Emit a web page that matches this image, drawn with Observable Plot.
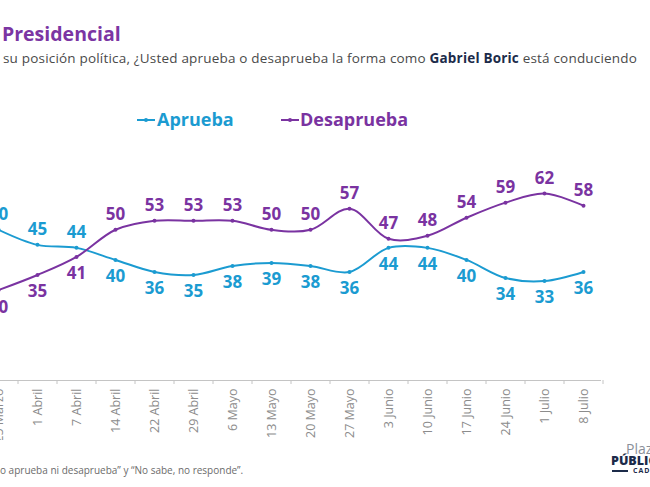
<!DOCTYPE html>
<html><head><meta charset="utf-8">
<script src="https://cdn.jsdelivr.net/npm/d3@7"></script>
<script src="https://cdn.jsdelivr.net/npm/@observablehq/plot@0.6"></script>
<style>
body{margin:0;background:#fff;font-family:"Open Sans",sans-serif;}
#page{position:relative;width:650px;height:487px;overflow:hidden;background:#fff;}
.abs{position:absolute;white-space:nowrap;line-height:1;}
.title{left:2px;top:24px;font-size:19.5px;font-weight:700;color:#7b35a3;}
.sub{left:3px;top:52px;font-size:13.5px;color:#4a4a4a;letter-spacing:0.19px;}
.sub b{color:#1c2b4a;}
.leg{top:110px;font-size:18px;font-weight:700;}
.sw{position:absolute;height:2px;width:18px;top:119px;}
.dotsw{position:absolute;width:4px;height:4px;border-radius:2px;top:118px;}
.foot{left:0px;top:465px;font-size:10px;color:#6b6b6b;}
#chart{position:absolute;left:0;top:150px;}
#logo{position:absolute;left:608px;top:440px;width:80px;height:40px;}
</style>
</head><body>
<div id="page">
  <div class="abs title">Presidencial</div>
  <div class="abs sub">su posición política, ¿Usted aprueba o desaprueba la forma como <b>Gabriel Boric</b> está conduciendo</div>
  <div class="sw" style="left:137px;background:#1b9bd1"></div>
  <div class="dotsw" style="left:144px;background:#1b9bd1"></div>
  <div class="abs leg" style="left:157px;color:#1b9bd1">Aprueba</div>
  <div class="sw" style="left:281px;background:#7a33a1"></div>
  <div class="dotsw" style="left:288px;background:#7a33a1"></div>
  <div class="abs leg" style="left:300px;color:#7a33a1">Desaprueba</div>
  <div id="chart"></div>
  <div class="abs foot">o aprueba ni desaprueba” y “No sabe, no responde”.</div>
  <div id="logo">
    <span class="abs" style="left:18px;top:2px;font-size:14px;color:#8a8f99;">Plaza</span>
    <span class="abs" style="left:3px;top:15px;font-size:12.5px;color:#1c2b4a;font-weight:800">PÚBLICA</span>
    <span style="position:absolute;left:4px;top:30px;width:16px;height:1.5px;background:#1c2b4a"></span>
    <span class="abs" style="left:25px;top:27px;font-size:7px;color:#1c2b4a;font-weight:700;letter-spacing:1px">CADEM</span>
  </div>
</div>
<script>
const fechas = ["25 Marzo","1 Abril","7 Abril","14 Abril","22 Abril","29 Abril","6 Mayo","13 Mayo","20 Mayo","27 Mayo","3 Junio","10 Junio","17 Junio","24 Junio","1 Julio","8 Julio"];
const aprueba = [50,45,44,40,36,35,38,39,38,36,44,44,40,34,33,36];
const desaprueba = [30,35,41,50,53,53,53,50,50,57,47,48,54,59,62,58];
const series = ["Aprueba","Desaprueba"];
const colores = ["#1b9bd1","#7a33a1"];

const rows = [];
fechas.forEach((f, i) => {
  rows.push({i, serie: "Aprueba", valor: aprueba[i], arriba: aprueba[i] > desaprueba[i]});
  rows.push({i, serie: "Desaprueba", valor: desaprueba[i], arriba: desaprueba[i] > aprueba[i]});
});

const chart = Plot.plot({
  width: 650,
  height: 290,
  marginLeft: 0,
  marginRight: 49,
  marginTop: 0,
  marginBottom: 60,
  style: {fontFamily: "'Open Sans', sans-serif", background: "transparent"},
  x: {type: "linear", domain: [-0.5, 15.5], range: [-21.5, 602.5], axis: null, label: null},
  y: {domain: [0, 70], range: [230, 19], axis: null, label: null},
  color: {domain: series, range: colores},
  marks: [
    Plot.ruleY([0], {stroke: "#c4c4c4", strokeWidth: 1}),
    Plot.axisX(d3.range(-0.5, 16, 1), {tickSize: 4, tickFormat: () => "", stroke: "#c4c4c4", label: null}),
    Plot.axisX(d3.range(fechas.length), {tickSize: 0, tickRotate: -90, tickPadding: 8, tickFormat: i => fechas[i], fill: "#8c8c8c", fontSize: 12.5, label: null}),
    Plot.line(rows, {x: "i", y: "valor", z: "serie", stroke: "serie", curve: "catmull-rom", strokeWidth: 2}),
    Plot.dot(rows, {x: "i", y: "valor", fill: "serie", r: 2}),
    Plot.text(rows.filter(d => d.arriba), {x: "i", y: "valor", text: "valor", fill: "serie", dy: -15, fontSize: 17, fontWeight: 700}),
    Plot.text(rows.filter(d => !d.arriba), {x: "i", y: "valor", text: "valor", fill: "serie", dy: 17, fontSize: 17, fontWeight: 700})
  ]
});
document.getElementById("chart").appendChild(chart);
</script>
</body></html>
